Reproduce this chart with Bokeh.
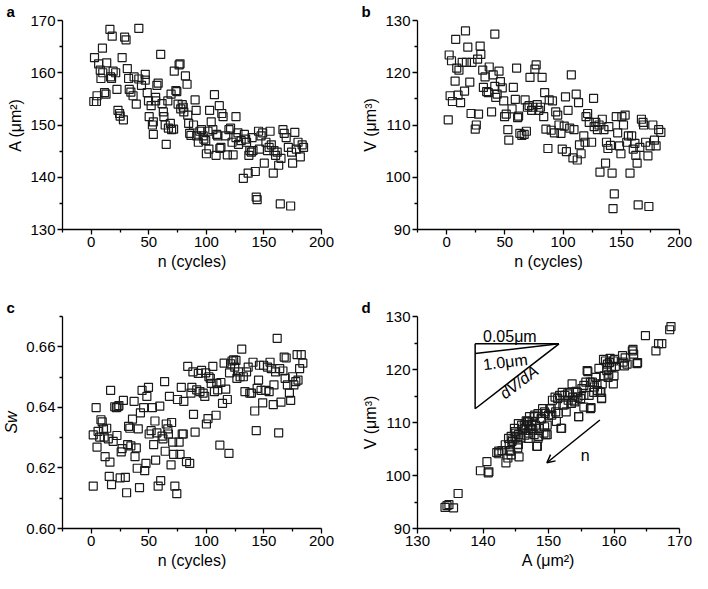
from bokeh.plotting import figure
from bokeh.layouts import gridplot
from bokeh.models import Range1d, FixedTicker, Title, Arrow, OpenHead, NumeralTickFormatter
from bokeh.core.properties import value
from bokeh.embed import file_html
from bokeh.resources import INLINE

# --- data ---
# panel a: membrane area A vs cycle number n
n_a = [2.8, 2.2, 4.5, 5.0, 6.4, 9.7, 7.8, 8.4, 10.0, 11.5, 12.8, 13.4, 16.2, 18.2, 17.6, 19.0, 16.8,
       21.2, 22.3, 23.2, 24.6, 25.1, 26.8, 27.9, 29.0, 30.2, 31.3, 32.4, 33.0, 34.4, 36.3, 37.2, 39.1,
       41.3, 41.3, 43.6, 46.9, 46.9, 48.6, 49.7, 50.3, 52.0, 53.1, 53.9, 53.9, 55.9, 55.9, 57.0, 58.1,
       60.3, 61.5, 62.6, 63.1, 64.2, 65.1, 66.5, 67.0, 68.7, 69.3, 69.8, 71.5, 72.1, 73.5, 74.3, 75.4,
       76.3, 77.1, 77.7, 79.0, 79.9, 80.4, 81.8, 83.2, 83.8, 84.6, 85.5, 86.6, 88.8, 90.2, 91.1, 91.6,
       93.0, 94.4, 95.8, 97.2, 97.8, 100.0, 99.4, 101.4, 102.8, 102.2, 104.2, 105.6, 107.0, 108.4, 109.0,
       109.8, 111.2, 111.7, 112.6, 113.4, 114.5, 116.8, 118.2, 119.6, 121.0, 122.3, 123.2, 125.7, 125.7,
       127.4, 127.9, 130.2, 132.1, 133.0, 134.1, 134.9, 136.3, 136.9, 137.7, 139.1, 139.7, 140.5, 142.5,
       143.3, 144.1, 145.3, 146.1, 147.5, 148.9, 150.3, 151.7, 153.1, 154.5, 155.3, 156.4, 158.1, 158.7,
       160.1, 161.5, 162.8, 164.2, 164.8, 166.5, 167.6, 169.3, 171.2, 173.2, 174.0, 174.9, 176.8, 178.2,
       179.6, 181.6, 183.2, 184.4]
A_a = [162.9, 154.5, 154.5, 155.6, 161.7, 164.7, 160.5, 158.9, 160.0, 156.2, 155.9, 161.9, 168.3, 167.0,
       158.9, 160.3, 159.2, 160.0, 156.8, 152.8, 152.2, 151.7, 162.9, 151.0, 166.8, 166.3, 160.8, 158.9,
       156.8, 156.3, 155.6, 159.2, 154.0, 168.5, 158.8, 157.6, 159.7, 158.6, 156.2, 154.6, 151.6, 153.7,
       150.0, 148.2, 150.6, 155.3, 154.6, 157.6, 158.0, 163.5, 154.1, 152.5, 151.6, 150.0, 146.3, 154.6,
       149.4, 150.3, 155.9, 149.1, 149.2, 160.3, 156.6, 156.4, 154.0, 161.5, 161.7, 153.1, 153.9, 153.4,
       152.5, 159.4, 157.8, 151.9, 150.3, 148.4, 148.0, 150.0, 154.8, 152.8, 147.9, 146.7, 148.8, 149.1,
       147.9, 147.3, 144.5, 147.0, 148.8, 152.8, 145.4, 150.6, 149.1, 155.8, 144.2, 148.2, 147.9, 153.7,
       145.5, 145.7, 152.2, 151.6, 147.9, 144.3, 149.1, 149.4, 146.7, 144.3, 151.6, 147.6, 148.5, 146.3,
       147.0, 139.8, 148.2, 147.3, 146.7, 140.8, 144.2, 145.1, 144.8, 147.6, 145.1, 141.1, 136.2, 135.7,
       148.8, 145.4, 147.9, 148.5, 142.7, 146.7, 145.1, 145.7, 148.8, 146.2, 140.8, 145.1, 144.2, 144.8,
       142.3, 134.9, 143.6, 149.1, 148.4, 147.6, 145.7, 134.5, 144.8, 142.7, 148.6, 145.4, 146.7, 143.9,
       146.2, 145.7]

# panel b: volume V vs cycle number n
n_b = [2.2, 1.4, 3.0, 5.0, 4.2, 7.3, 7.8, 8.7, 9.8, 10.6, 12.0, 13.4, 15.4, 16.2, 18.2, 17.0, 19.9,
       21.0, 21.8, 24.6, 25.5, 26.6, 27.4, 28.8, 29.4, 31.0, 31.6, 33.0, 34.4, 35.8, 36.6, 38.6, 41.4,
       40.0, 41.4, 42.2, 43.4, 45.0, 46.2, 47.8, 49.0, 49.8, 51.2, 52.6, 53.4, 56.2, 57.3, 59.0, 60.1,
       61.0, 61.8, 62.9, 64.6, 66.6, 67.4, 68.5, 69.4, 70.8, 71.6, 73.0, 74.1, 75.8, 76.9, 77.8, 79.2,
       80.6, 82.0, 83.4, 84.2, 85.3, 87.0, 88.1, 89.8, 90.9, 92.6, 93.7, 95.4, 96.5, 98.2, 99.3, 101.0,
       102.1, 102.9, 104.3, 105.7, 107.1, 108.5, 109.4, 111.3, 112.2, 113.3, 114.1, 115.5, 117.8, 118.9,
       119.7, 121.1, 122.5, 124.5, 126.2, 126.7, 128.1, 129.5, 130.9, 131.7, 133.7, 135.1, 136.5, 137.3,
       138.5, 139.3, 140.7, 142.1, 142.9, 144.0, 145.7, 146.9, 148.5, 149.7, 150.5, 151.9, 153.3, 154.7,
       156.1, 157.5, 158.9, 160.3, 161.7, 162.5, 163.6, 164.5, 165.9, 167.3, 168.7, 169.2, 170.9, 172.9,
       173.7, 174.8, 177.1, 178.5, 179.9, 182.1, 184.0]
V_b = [123.4, 111.0, 115.6, 114.5, 122.3, 118.4, 126.4, 120.9, 115.7, 120.5, 114.3, 122.0, 116.5, 128.0,
       124.9, 122.0, 118.2, 112.2, 122.0, 109.2, 110.0, 122.6, 112.1, 125.1, 123.5, 120.5, 117.2, 119.2,
       116.4, 116.2, 121.1, 112.5, 127.4, 119.6, 117.4, 115.3, 115.9, 120.3, 118.3, 117.1, 114.6, 111.6,
       112.1, 109.1, 107.1, 113.1, 117.2, 114.9, 120.9, 111.4, 111.7, 108.4, 108.0, 108.2, 114.8, 108.8,
       113.4, 113.7, 119.1, 112.8, 113.4, 120.7, 121.5, 113.9, 112.8, 113.4, 119.1, 111.6, 116.2, 109.2,
       105.5, 114.8, 109.0, 114.6, 108.5, 112.5, 111.9, 110.0, 108.4, 105.4, 109.8, 115.4, 104.9, 112.8,
       109.4, 119.6, 103.7, 109.1, 115.9, 103.3, 114.3, 106.2, 104.5, 107.9, 106.7, 111.6, 112.2, 110.5,
       106.7, 115.1, 109.7, 110.5, 109.1, 110.0, 101.0, 111.1, 109.1, 102.7, 106.7, 105.5, 109.7, 106.1,
       100.8, 94.0, 96.8, 111.6, 108.5, 106.0, 104.5, 111.6, 110.0, 111.9, 106.7, 107.9, 100.8, 107.9,
       105.4, 106.5, 104.2, 102.7, 94.7, 105.7, 111.1, 110.5, 110.0, 106.7, 104.1, 94.4, 106.0, 110.0,
       107.1, 106.0, 109.1, 108.6]

# panel c: shape factor Sw vs cycle number n
n_c = [1.7, 4.2, 1.7, 5.0, 5.9, 7.3, 8.4, 9.5, 10.6, 11.2, 12.0, 13.4, 14.8, 15.6, 16.2, 16.8, 17.6,
       19.0, 20.4, 21.8, 22.3, 23.2, 24.0, 25.1, 26.0, 26.8, 27.9, 29.6, 30.7, 31.6, 32.4, 33.5, 34.4,
       35.8, 37.2, 38.0, 39.1, 39.9, 40.8, 41.9, 42.7, 44.1, 45.5, 46.4, 47.5, 48.3, 49.7, 50.3, 52.0,
       53.1, 54.2, 55.3, 55.9, 57.0, 58.1, 59.5, 60.3, 61.5, 62.3, 63.7, 64.2, 65.1, 66.5, 67.0, 67.9,
       69.3, 69.8, 70.7, 71.5, 72.6, 74.3, 74.9, 76.3, 77.1, 78.2, 79.0, 79.9, 80.4, 82.7, 83.8, 85.5,
       86.6, 87.4, 88.3, 88.8, 90.2, 91.6, 93.0, 94.4, 95.8, 97.2, 98.6, 99.4, 100.0, 101.4, 102.2, 103.4,
       104.2, 105.6, 107.0, 108.4, 109.0, 109.8, 111.7, 112.6, 114.0, 115.4, 116.8, 118.2, 119.6, 120.1,
       121.0, 122.3, 123.7, 124.6, 125.7, 126.5, 127.9, 129.3, 130.7, 132.1, 133.5, 134.9, 136.3, 137.7,
       139.1, 140.5, 142.0, 143.3, 144.1, 145.3, 146.1, 147.5, 148.9, 149.7, 151.7, 153.1, 154.5, 155.3,
       156.4, 158.1, 158.7, 160.1, 161.5, 162.8, 163.7, 164.8, 166.5, 167.6, 168.4, 169.3, 170.4, 172.1,
       173.2, 174.9, 176.0, 177.7, 178.8, 179.6, 181.0, 182.4, 183.8]
Sw_c = [0.6140, 0.6399, 0.6309, 0.6269, 0.6321, 0.6302, 0.6359, 0.6352, 0.6329, 0.6302, 0.6237, 0.6331,
        0.6296, 0.6172, 0.6219, 0.6456, 0.6145, 0.6288, 0.6402, 0.6399, 0.6307, 0.6402, 0.6406, 0.6167,
        0.6253, 0.6264, 0.6423, 0.6169, 0.6118, 0.6277, 0.6337, 0.6331, 0.6273, 0.6361, 0.6420, 0.6237,
        0.6266, 0.6199, 0.6329, 0.6135, 0.6382, 0.6456, 0.6399, 0.6191, 0.6215, 0.6436, 0.6466, 0.6312,
        0.6323, 0.6399, 0.6277, 0.6355, 0.6226, 0.6316, 0.6140, 0.6404, 0.6158, 0.6305, 0.6296, 0.6485,
        0.6255, 0.6345, 0.6329, 0.6312, 0.6436, 0.6210, 0.6350, 0.6285, 0.6245, 0.6140, 0.6115, 0.6426,
        0.6285, 0.6245, 0.6466, 0.6312, 0.6312, 0.6420, 0.6221, 0.6535, 0.6215, 0.6447, 0.6466, 0.6517,
        0.6377, 0.6318, 0.6458, 0.6512, 0.6452, 0.6522, 0.6447, 0.6436, 0.6514, 0.6345, 0.6363, 0.6501,
        0.6496, 0.6479, 0.6535, 0.6452, 0.6374, 0.6479, 0.6458, 0.6275, 0.6482, 0.6413, 0.6546, 0.6460,
        0.6426, 0.6248, 0.6514, 0.6544, 0.6553, 0.6557, 0.6533, 0.6555, 0.6496, 0.6517, 0.6501, 0.6592,
        0.6501, 0.6452, 0.6517, 0.6533, 0.6447, 0.6447, 0.6549, 0.6388, 0.6323, 0.6463, 0.6490, 0.6539,
        0.6456, 0.6415, 0.6539, 0.6456, 0.6533, 0.6452, 0.6549, 0.6528, 0.6409, 0.6474, 0.6517, 0.6628,
        0.6316, 0.6528, 0.6417, 0.6520, 0.6566, 0.6496, 0.6563, 0.6474, 0.6447, 0.6423, 0.6501, 0.6474,
        0.6485, 0.6574, 0.6490, 0.6528, 0.6574, 0.6546]

# panel d: V against A
A_d = [134.2, 134.5, 134.8, 135.5, 136.2, 139.6, 140.6, 140.9, 140.8, 142.1, 142.4, 142.9, 143.5, 143.8,
       144.0, 144.3, 144.5, 144.8, 145.0, 145.3, 145.4, 145.5, 145.8, 146.0, 146.3, 146.4, 146.6, 146.9,
       147.1, 147.3, 147.5, 147.8, 148.0, 148.3, 148.4, 148.6, 148.9, 149.1, 149.3, 149.5, 149.8, 150.0,
       150.2, 150.5, 151.0, 151.2, 151.5, 151.7, 152.0, 152.2, 152.5, 152.7, 153.0, 153.2, 153.5, 153.7,
       154.0, 154.2, 154.5, 154.6, 154.9, 155.1, 155.4, 155.7, 156.0, 156.2, 156.5, 156.7, 157.0, 157.2,
       157.5, 157.7, 158.0, 158.1, 158.2, 158.5, 158.7, 158.9, 159.0, 159.2, 159.4, 159.6, 159.9, 160.0,
       160.2, 161.4, 161.7, 162.0, 162.9, 163.0, 163.5, 164.8, 166.4, 166.8, 167.3, 168.5, 168.7,
       144.0, 144.3, 145.3, 144.9, 146.8, 147.0, 147.6, 147.8, 148.5, 149.8,
       155.9, 156.4, 157.4, 158.4, 159.3, 160.1, 161.3, 162.8, 163.6, 161.6, 159.1, 159.9, 157.9, 158.1,
       156.9, 155.4, 154.4, 153.9, 152.9, 152.4, 151.4, 151.1, 150.4, 149.4, 148.9, 147.9, 147.4, 146.9,
       146.4, 145.9, 145.4, 144.9, 144.4, 143.9, 143.4, 144.2, 148.4, 149.6, 151.9, 154.6, 156.4, 152.1,
       150.6, 153.6, 155.4, 142.4, 145.4, 146.9, 148.2, 149.4]
V_d = [94.0, 94.3, 94.5, 93.9, 96.6, 100.9, 102.6, 100.7, 100.5, 104.3, 104.1, 104.7, 102.4, 103.3,
       105.8, 107.4, 106.7, 108.9, 108.0, 105.9, 109.8, 103.5, 107.1, 108.6, 109.5, 107.6, 110.3, 108.0,
       111.1, 108.9, 110.2, 111.1, 109.5, 105.5, 111.7, 108.9, 110.7, 112.6, 108.0, 111.7, 109.5, 111.4,
       112.6, 111.4, 114.8, 110.2, 111.7, 115.1, 108.9, 113.3, 115.1, 112.0, 114.2, 115.7, 113.6, 114.8,
       113.9, 115.9, 114.8, 111.1, 114.5, 116.4, 112.9, 117.6, 119.6, 115.1, 112.8, 117.6, 116.7, 118.5,
       116.0, 120.2, 115.7, 114.6, 117.3, 118.8, 121.6, 119.8, 121.0, 119.1, 122.1, 120.4, 121.6, 118.8,
       120.6, 121.4, 122.2, 121.0, 123.8, 122.9, 121.1, 126.4, 123.5, 124.9, 124.9, 127.5, 128.1,
       104.7, 103.9, 105.2, 107.1, 110.2, 109.2, 108.6, 107.7, 107.4, 107.7,
       119.8, 117.6, 117.3, 121.9, 121.3, 121.9, 122.6, 123.5, 121.3, 120.7, 118.5, 117.3, 115.7, 114.5,
       115.7, 117.0, 115.7, 114.2, 115.4, 113.3, 114.5, 112.0, 112.6, 112.0, 110.8, 111.4, 109.5, 110.1,
       108.9, 109.5, 107.7, 108.3, 106.4, 107.0, 105.8, 104.6, 107.0, 107.7, 108.9, 111.1, 112.6, 115.7,
       114.2, 117.3, 115.1, 104.6, 105.8, 107.0, 105.5, 109.2]

n_ticks = [0, 50, 100, 150, 200]
n_minor = [-25, 25, 75, 125, 175]

FONT = "Liberation Sans"
INK = "#1a1a1a"


def make_panel(letter, w, h, xr, yr, xt, xm, yt, ym, left, right, top, bottom,
               xlabel, ylabel, ylabel_style="normal", yfmt="0"):
    p = figure(width=w, height=h, x_range=Range1d(*xr), y_range=Range1d(*yr),
               output_backend="svg", toolbar_location=None,
               min_border_left=left, min_border_right=right,
               min_border_top=top, min_border_bottom=bottom)
    p.grid.visible = False
    p.outline_line_color = None
    p.xaxis.ticker = FixedTicker(ticks=xt, minor_ticks=xm)
    p.yaxis.ticker = FixedTicker(ticks=yt, minor_ticks=ym)
    p.xaxis.formatter = NumeralTickFormatter(format="0")
    p.yaxis.formatter = NumeralTickFormatter(format=yfmt)
    for ax in p.axis:
        ax.axis_line_color = "black"
        ax.axis_line_width = 1.3
        ax.major_tick_line_width = 1.3
        ax.minor_tick_line_width = 1.3
        ax.major_tick_in = 0
        ax.major_tick_out = 5
        ax.minor_tick_in = 0
        ax.minor_tick_out = 3
        ax.major_label_standoff = 2
        ax.major_label_text_font = FONT
        ax.major_label_text_font_size = "15px"
        ax.major_label_text_color = "black"
        ax.axis_label_text_font = FONT
        ax.axis_label_text_font_size = "16px"
        ax.axis_label_text_color = "black"
        ax.axis_label_standoff = 3
    p.xaxis.axis_label = xlabel
    p.xaxis.axis_label_text_font_style = "normal"
    p.yaxis.axis_label = ylabel
    p.yaxis.axis_label_text_font_style = ylabel_style
    # panel letter sits in the corner, left of the frame
    p.add_layout(Title(text=letter, align="left", offset=-56, standoff=1,
                       text_font=FONT, text_font_size="15px", text_font_style="bold",
                       text_color="black"), "above")
    return p


def squares(p, x, y):
    p.scatter(x, y, marker="square", size=8, fill_color=None, line_color=INK, line_width=1.2)


# a
pa = make_panel("a", 344, 286, (-25, 200), (130, 170), n_ticks, n_minor,
                [130, 140, 150, 160, 170], [135, 145, 155, 165], 59, 23, 17, 57,
                "n (cycles)", "A (μm²)")
squares(pa, n_a, A_a)

# b
pb = make_panel("b", 348, 286, (-25, 200), (90, 130), n_ticks, n_minor,
                [90, 100, 110, 120, 130], [95, 105, 115, 125], 73, 13, 17, 57,
                "n (cycles)", "V (μm³)")
squares(pb, n_b, V_b)

# c
pc = make_panel("c", 344, 287, (-25, 200), (0.60, 0.67), n_ticks, n_minor,
                [0.60, 0.62, 0.64, 0.66], [0.61, 0.63, 0.65, 0.67], 59, 23, 30, 45,
                "n (cycles)", "Sw", ylabel_style="italic", yfmt="0.00")
squares(pc, n_c, Sw_c)

# d
pd_ = make_panel("d", 348, 287, (130, 170), (90, 130), [130, 140, 150, 160, 170],
                 [135, 145, 155, 165], [90, 100, 110, 120, 130], [95, 105, 115, 125],
                 73, 13, 30, 45, "A (μm²)", "V (μm³)")
squares(pd_, A_d, V_d)

# slope sketch and direction arrow in panel d
tri_x0, tri_x1 = 138.8, 151.6
tri_top, tri_mid, tri_bot = 124.85, 123.0, 112.6
pd_.segment(x0=[tri_x0, tri_x0, tri_x0, tri_x0], y0=[tri_top, tri_top, tri_bot, tri_mid],
            x1=[tri_x1, tri_x0, tri_x1, tri_x1], y1=[tri_top, tri_bot, tri_top, tri_top],
            line_color="black", line_width=1.5)
pd_.text(x=[144.1], y=[126.3], text=["0.05μm"], text_font=value(FONT), text_font_size="16px",
         text_align="center", text_baseline="middle")
pd_.text(x=[143.4], y=[121.4], text=["1.0μm"], angle=0.117, text_font=value(FONT),
         text_font_size="16px", text_align="center", text_baseline="middle")
pd_.text(x=[145.5], y=[117.6], text=["dV/dA"], angle=0.65, text_font=value(FONT),
         text_font_style="italic", text_font_size="16px", text_align="center", text_baseline="middle")
pd_.add_layout(Arrow(end=OpenHead(size=8, line_width=1.5), x_start=157.85, y_start=110.47,
                     x_end=149.75, y_end=102.4, line_width=1.5))
pd_.text(x=[155.6], y=[103.8], text=["n"], text_font=value(FONT), text_font_size="16px",
         text_align="center", text_baseline="middle")

p = gridplot([[pa, pb], [pc, pd_]], toolbar_location=None)

open("out.html", "w").write(file_html(p, INLINE))
